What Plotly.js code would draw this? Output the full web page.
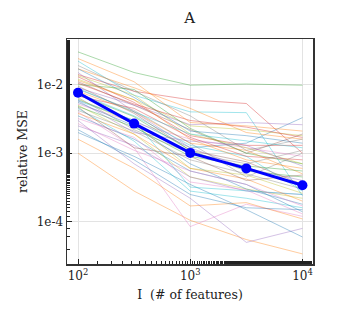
<!DOCTYPE html>
<html>
<head>
<meta charset="utf-8">
<script src="https://cdn.plot.ly/plotly-3.0.1.min.js"></script>
<style>
  html, body { margin: 0; padding: 0; background: #fff; }
  #plot { width: 348px; height: 331px; }
</style>
</head>
<body>
<div id="plot"></div>
<script>
// number of features
const features = [100, 316, 1000, 3162, 10000];

// mean relative MSE (bold line)
const meanMSE = [0.0076, 0.0027, 0.00101, 0.0006, 0.00034];

// individual runs (thin lines), one array per run
const runs = [
  [0.030, 0.015, 0.0098, 0.0102, 0.0098],
  [0.014, 0.008, 0.006, 0.0053, 0.0010],
  [0.022, 0.007, 0.0040, 0.0039, 0.00024],
  [0.006, 0.003, 0.0012, 0.0014, 0.0033],
  [0.0010, 0.00028, 0.000105, 0.000055, 0.000034],
  [0.0030, 0.0007, 0.00022, 0.00005, 0.00008],
  [0.0040, 0.0012, 0.000085, 0.00018, 0.00012],
  [0.0020, 0.0009, 0.00035, 0.00015, 0.00006],
  [0.0016, 0.0006, 0.00017, 0.00019, 0.00011],
  [0.012, 0.006, 0.0025, 0.0022, 0.0018],
  [0.011, 0.005, 0.0022, 0.0010, 0.0019],
  [0.009, 0.005, 0.0026, 0.0028, 0.0026],
  [0.0065, 0.0022, 0.0010, 0.0007, 0.0011],
  [0.017, 0.009, 0.0045, 0.0020, 0.0016],
  [0.013, 0.0055, 0.0018, 0.0013, 0.0013],
  [0.010, 0.0085, 0.0023, 0.0010, 0.0007],
  [0.0045, 0.0015, 0.00028, 0.00022, 0.00016],
  [0.0035, 0.0016, 0.00055, 0.00035, 0.00014],
  [0.008, 0.004, 0.0014, 0.0011, 0.0005],
  [0.015, 0.004, 0.0012, 0.0006, 0.0004],
  [0.0052, 0.0028, 0.0016, 0.0012, 0.0009],
  [0.0085, 0.0042, 0.0014, 0.00045, 0.0010],
  [0.005, 0.0019, 0.00045, 0.0003, 0.00022],
  [0.0075, 0.0035, 0.0013, 0.0009, 0.00028],
  [0.0055, 0.0025, 0.0007, 0.0003, 0.00018],
  [0.0115, 0.006, 0.0016, 0.0008, 0.0006],
  [0.0048, 0.0024, 0.0009, 0.00065, 0.00055],
  [0.0068, 0.0045, 0.0017, 0.0009, 0.0008],
  [0.0025, 0.0013, 0.00045, 0.00028, 0.00025],
  [0.0095, 0.0038, 0.0011, 0.00075, 0.00035],
  [0.0032, 0.0017, 0.00038, 0.00029, 0.00013],
  [0.0042, 0.0021, 0.0008, 0.0005, 0.0003],
  [0.0135, 0.007, 0.0019, 0.0012, 0.0007],
  [0.0058, 0.0030, 0.00032, 0.00028, 0.00025],
  [0.017, 0.0065, 0.0021, 0.0018, 0.0014],
  [0.0038, 0.0019, 0.0006, 0.00042, 0.00020],
  [0.0072, 0.0034, 0.0011, 0.00055, 0.00045],
  [0.0105, 0.0052, 0.0030, 0.0024, 0.0017],
  [0.0058, 0.0020, 0.0015, 0.0013, 0.00065],
  [0.0047, 0.0012, 0.0009, 0.0004, 0.00048],
  [0.0027, 0.0011, 0.00055, 0.00035, 0.00017],
  [0.019, 0.008, 0.0035, 0.0011, 0.0016],
  [0.0062, 0.0027, 0.0006, 0.00048, 0.00026],
  [0.0088, 0.0040, 0.0019, 0.0015, 0.0012],
  [0.0022, 0.0008, 0.00025, 0.00016, 0.00015],
  [0.024, 0.011, 0.0028, 0.0025, 0.0021]
];

const xTickVals = [100, 1000, 10000];
const xTickText = ["10<sup>2</sup>", "10<sup>3</sup>", "10<sup>4</sup>"];
const yTickVals = [0.0001, 0.001, 0.01];
const yTickText = ["1e-4", "1e-3", "1e-2"];

// colour of each thin line, in run order
const runColors = [
  "#2ca02c", "#d62728", "#17becf", "#1f77b4", "#ff7f0e", "#9467bd", "#e377c2", "#1f77b4",
  "#ff7f0e", "#bcbd22", "#8c564b", "#9467bd", "#7f7f7f", "#ff7f0e", "#d62728", "#2ca02c",
  "#17becf", "#1f77b4", "#ff7f0e", "#9467bd", "#e377c2", "#7f7f7f", "#bcbd22", "#17becf",
  "#1f77b4", "#ff7f0e", "#2ca02c", "#d62728", "#9467bd", "#8c564b", "#e377c2", "#7f7f7f",
  "#bcbd22", "#17becf", "#1f77b4", "#ff7f0e", "#2ca02c", "#d62728", "#9467bd", "#8c564b",
  "#e377c2", "#7f7f7f", "#bcbd22", "#17becf", "#1f77b4", "#ff7f0e"
];

const traces = runs.map((r, i) => ({
  type: "scatter", mode: "lines", x: features, y: r,
  line: { color: runColors[i], width: 0.8 },
  opacity: 0.5, hoverinfo: "skip", showlegend: false
}));

traces.push({
  type: "scatter", mode: "lines+markers", x: features, y: meanMSE,
  line: { color: "#0000ff", width: 3 },
  marker: { color: "#0000ff", size: 10 },
  showlegend: false
});

const font = { family: "DejaVu Serif, serif", color: "#222", size: 12 };

const layout = {
  width: 348, height: 331,
  margin: { l: 67, r: 35, t: 39, b: 67 },
  paper_bgcolor: "#fff", plot_bgcolor: "#fff",
  font: font,
  title: { text: "A", x: 0.545, xanchor: "center", y: 0.945, yanchor: "middle",
           font: { family: font.family, size: 15, color: "#222" } },
  xaxis: {
    type: "log", range: [1.902, 4.094],
    tickvals: xTickVals, ticktext: xTickText,
    ticks: "inside", ticklen: 5, tickcolor: "#222",
    minor: { ticks: "inside", ticklen: 3, tickcolor: "#222", showgrid: false },
    showgrid: true, gridcolor: "#e3e3e3", gridwidth: 1,
    showline: true, linecolor: "#333", linewidth: 1.5, mirror: true,
    zeroline: false,
    title: { text: "I  (# of features)", standoff: 8, font: { family: font.family, size: 12.5 } }
  },
  yaxis: {
    type: "log", range: [-4.616, -1.335],
    tickvals: yTickVals, ticktext: yTickText,
    ticks: "inside", ticklen: 5, tickcolor: "#222",
    minor: { ticks: "inside", ticklen: 3, tickcolor: "#222", showgrid: false },
    showgrid: true, gridcolor: "#e3e3e3", gridwidth: 1,
    showline: true, linecolor: "#333", linewidth: 1.5, mirror: true,
    zeroline: false,
    title: { text: "relative MSE", standoff: 6, font: { family: font.family, size: 12.5 } }
  }
};

Plotly.newPlot("plot", traces, layout, { displayModeBar: false, staticPlot: true });
</script>
</body>
</html>
